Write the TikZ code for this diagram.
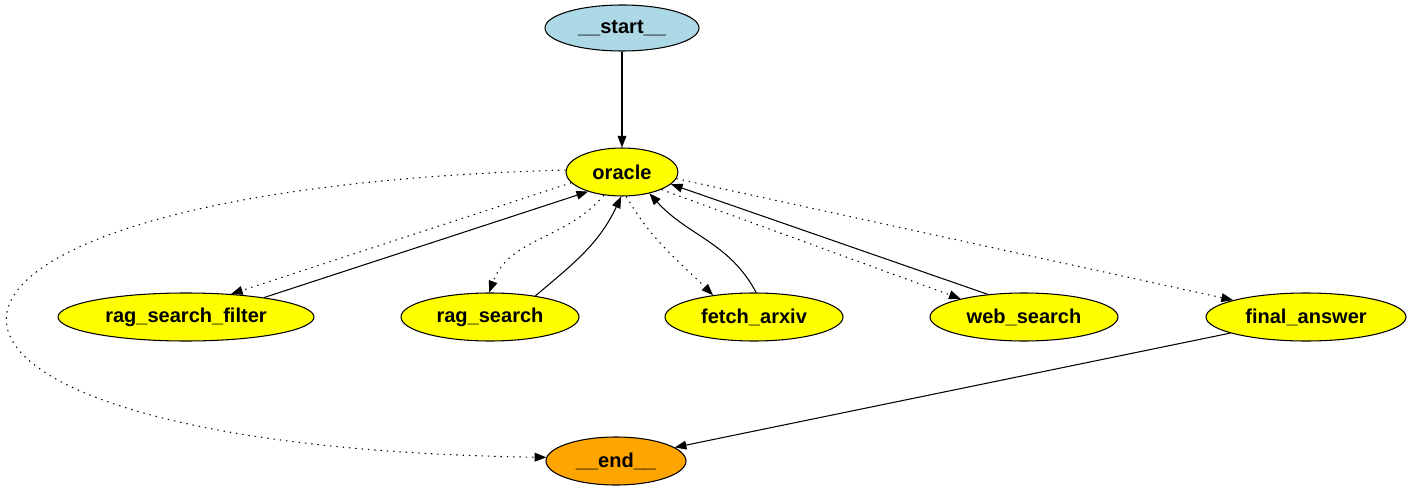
\documentclass[tikz,border=0pt]{standalone}
\usepackage{fontspec}
\setmainfont{Liberation Sans}
\usetikzlibrary{shapes.geometric,arrows.meta}
\definecolor{startblue}{HTML}{ADD8E6}
\definecolor{nodeyellow}{HTML}{FFFF00}
\definecolor{endorange}{HTML}{FFA500}
\begin{document}
\begin{tikzpicture}[
  state/.style={ellipse,draw=black,line width=0.6pt,inner sep=0pt,minimum height=0.96cm,fill=nodeyellow,font=\fontsize{11.4}{13}\selectfont\bfseries},
  edge/.style={line width=0.6pt,-{Triangle[length=6.6pt,width=5pt]}},
  cond/.style={edge,dash pattern=on 0.8pt off 2.8pt}]
\useasboundingbox (0,0) rectangle (28.24,-9.82);
\node[state,fill=startblue,minimum width=3.08cm,minimum height=0.92cm] (start) at (12.44,-0.56) {\_\_start\_\_};
\node[state,minimum width=2.24cm] (oracle) at (12.44,-3.44) {oracle};
\node[state,minimum width=5.12cm] (ragfilter) at (3.72,-6.34) {rag\_search\_filter};
\node[state,minimum width=3.56cm] (rag) at (9.8,-6.34) {rag\_search};
\node[state,minimum width=3.56cm] (arxiv) at (15.08,-6.34) {fetch\_arxiv};
\node[state,minimum width=3.76cm] (web) at (20.48,-6.34) {web\_search};
\node[state,minimum width=4cm] (final) at (26.12,-6.34) {final\_answer};
\node[state,fill=endorange,minimum width=2.8cm] (end) at (12.32,-9.22) {\_\_end\_\_};
\draw[edge] (start) -- (oracle);
\draw[cond] (oracle.192) -- (ragfilter.27);
\draw[edge] (ragfilter.14) -- (oracle.210);
\draw[cond] (oracle.232) to[out=-130,in=70] (rag.92);
\draw[edge] (rag.25) to[out=40,in=-115] (oracle.268);
\draw[cond] (oracle.280) to[out=-60,in=135] (arxiv.152);
\draw[edge] (arxiv.85) to[out=118,in=-48] (oracle.322);
\draw[cond] (oracle.336) -- (web.164);
\draw[edge] (web.148) -- (oracle.346);
\draw[cond] (oracle.353) -- (final.167);
\draw[edge] (final.192) -- (end.13);
\draw[cond] (oracle.178) .. controls (-3.5,-3.8) and (-3.5,-8.94) .. (end.177);
\end{tikzpicture}
\end{document}
